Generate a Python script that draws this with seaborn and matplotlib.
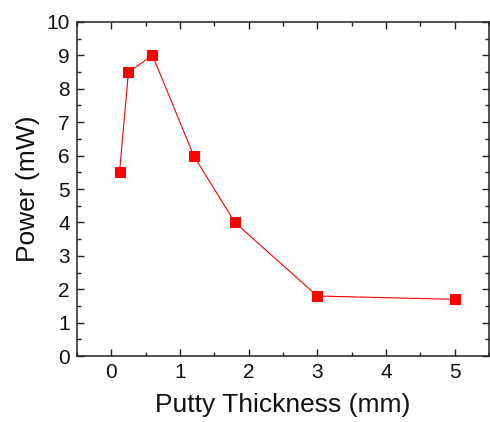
import matplotlib
matplotlib.use("Agg")
import matplotlib.pyplot as plt
import seaborn as sns
import pandas as pd
from matplotlib.ticker import MultipleLocator

thickness = [0.12, 0.25, 0.6, 1.2, 1.8, 3.0, 5.0]
power = [5.5, 8.5, 9.0, 6.0, 4.0, 1.8, 1.7]
xticks = [0, 1, 2, 3, 4, 5]
yticks = [0, 1, 2, 3, 4, 5, 6, 7, 8, 9, 10]

sns.set_style("ticks")
plt.rcParams['font.family'] = ['Liberation Sans', 'DejaVu Sans']

df = pd.DataFrame({"x": thickness, "y": power})

fig = plt.figure(figsize=(4.9, 4.22), dpi=100)
ax = fig.add_axes([0.157, 0.156, 0.841, 0.792])

sns.lineplot(data=df, x="x", y="y", ax=ax, color="#ff0000", linewidth=0.8,
             marker="s", markersize=7.5, markeredgecolor="#ff0000",
             markerfacecolor="#ff0000", sort=False)

ax.set_xlim(-0.5, 5.5)
ax.set_ylim(0, 10)
ax.set_xticks(xticks)
ax.set_yticks(yticks)
ax.xaxis.set_minor_locator(MultipleLocator(0.5))
ax.yaxis.set_minor_locator(MultipleLocator(0.5))
ax.tick_params(which="both", direction="in", top=True, right=True,
               labeltop=False, labelright=False, color="#222222", width=1.0)
ax.tick_params(which="major", length=5, labelsize=15, pad=5, labelcolor="#111111")
ax.tick_params(which="minor", length=3)
for s in ax.spines.values():
    s.set_linewidth(1.1)
    s.set_color("#222222")

ax.set_xlabel("Putty Thickness (mm)", fontsize=19, labelpad=8, color="#111111")
ax.set_ylabel("Power (mW)", fontsize=19, labelpad=5, color="#111111")

fig.savefig("out.png", dpi=100)
